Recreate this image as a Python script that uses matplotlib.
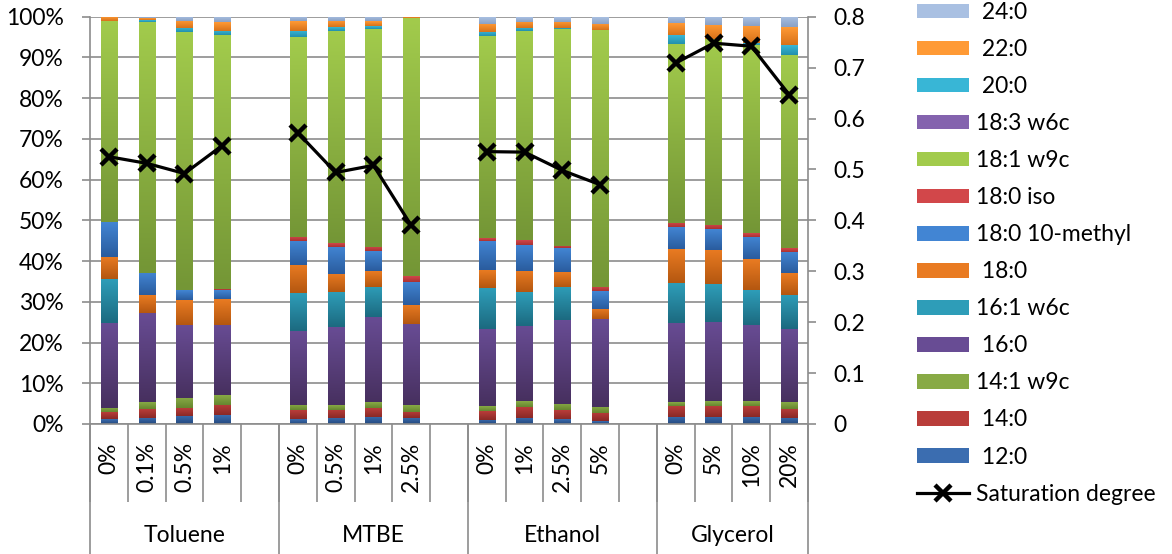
import numpy as np
import matplotlib
matplotlib.use("Agg")
import matplotlib.pyplot as plt
from matplotlib.colors import LinearSegmentedColormap
from matplotlib.patches import Patch
from matplotlib.lines import Line2D
import matplotlib.transforms as mtransforms

plt.rcParams['font.family'] = ['Lato', 'DejaVu Sans']

# categories
groups = ["Toluene", "MTBE", "Ethanol", "Glycerol"]
levels = [["0%", "0.1%", "0.5%", "1%"],
          ["0%", "0.5%", "1%", "2.5%"],
          ["0%", "1%", "2.5%", "5%"],
          ["0%", "5%", "10%", "20%"]]

# fatty acid composition (%), order: Toluene x4, MTBE x4, Ethanol x4, Glycerol x4
fa_12_0 = [1.2, 1.5, 2.0, 2.2, 1.2, 1.5, 1.8, 1.5, 1.0, 1.5, 1.2, 0.7, 1.8, 1.8, 1.8, 1.5]
fa_14_0 = [1.7, 2.2, 1.9, 2.5, 2.2, 2.0, 2.1, 1.5, 2.2, 2.7, 2.2, 2.0, 2.6, 2.6, 2.6, 2.3]
fa_14_1 = [1.0, 1.6, 2.5, 2.4, 1.3, 1.2, 1.4, 1.7, 1.1, 1.4, 1.5, 1.5, 0.9, 1.2, 1.2, 1.5]
fa_16_0 = [20.9, 21.9, 17.9, 17.2, 18.2, 19.1, 21.0, 19.8, 19.0, 18.5, 20.6, 21.5, 19.5, 19.5, 18.7, 18.0]
fa_16_1 = [10.7, 0, 0, 0, 9.2, 8.5, 7.4, 0, 10.0, 8.2, 8.2, 0, 9.8, 9.2, 8.5, 8.4]
fa_18_0 = [5.4, 4.4, 6.1, 6.3, 6.9, 4.5, 3.9, 4.7, 4.4, 5.3, 3.6, 2.5, 8.3, 8.4, 7.6, 5.3]
fa_18_0_me = [8.5, 5.6, 2.4, 2.2, 5.9, 6.7, 4.9, 5.7, 7.2, 6.3, 5.8, 4.4, 5.4, 5.1, 5.5, 5.2]
fa_18_0_iso = [0, 0, 0, 0.3, 1.1, 0.9, 1.0, 1.4, 0.7, 1.2, 0.5, 1.0, 1.0, 1.0, 0.9, 0.9]
fa_18_1 = [49.4, 61.7, 63.4, 62.3, 48.9, 52.2, 53.6, 63.4, 49.6, 51.3, 53.3, 63.2, 44.1, 45.7, 46.2, 47.6]
fa_18_3 = [0] * 16
fa_20_0 = [0, 0.4, 1.0, 1.2, 1.7, 0.8, 0.7, 0, 1.1, 0.9, 0.4, 0, 2.2, 0, 0.6, 2.4]
fa_22_0 = [1.0, 0.4, 1.8, 2.0, 2.3, 1.6, 1.2, 0.3, 2.0, 1.5, 1.5, 1.5, 2.9, 3.5, 4.2, 4.3]
fa_24_0 = [0, 0.4, 1.0, 1.4, 1.1, 1.0, 1.0, 0, 1.7, 1.2, 1.2, 1.7, 1.5, 2.0, 2.2, 2.6]

saturation = [0.525, 0.512, 0.492, 0.547, 0.572, 0.494, 0.508, 0.390,
              0.535, 0.534, 0.498, 0.470, 0.709, 0.748, 0.742, 0.647]

series = [
    (" 12:0", fa_12_0, "#3B6DB0", "#24497E"),
    (" 14:0", fa_14_0, "#B93D3A", "#8A2926"),
    ("14:1 w9c", fa_14_1, "#88AA45", "#66862F"),
    (" 16:0", fa_16_0, "#684C94", "#47305F"),
    ("16:1 w6c", fa_16_1, "#2E9DB8", "#1C6A80"),
    (" 18:0", fa_18_0, "#E97B22", "#B45710"),
    ("18:0 10-methyl", fa_18_0_me, "#4285D3", "#2A5C9E"),
    ("18:0 iso", fa_18_0_iso, "#D2474A", "#A93232"),
    ("18:1 w9c", fa_18_1, "#A2CB4C", "#749636"),
    ("18:3 w6c", fa_18_3, "#8463AE", "#5D4283"),
    (" 20:0", fa_20_0, "#38B6D6", "#2390AC"),
    (" 22:0", fa_22_0, "#FF9A35", "#D8721A"),
    (" 24:0", fa_24_0, "#A9C0E2", "#8AA1C5"),
]

FS = 16.5

# slot positions: 4 bars per group, one empty slot between groups
positions = []
for g in range(len(groups)):
    positions += [g * 5 + i for i in range(len(levels[g]))]
positions = np.array(positions, dtype=float)
n_slots = positions[-1] + 1

values = np.array([s[1] for s in series], dtype=float)
values = values / values.sum(axis=0) * 100

W, H = 1172, 554
fig = plt.figure(figsize=(W / 100, H / 100), dpi=100)
ax = fig.add_axes([90 / W, 1 - 424 / H, 718 / W, 407.3 / H])

grid_c = "#8C8C8C"
bottom = np.zeros(len(positions))
for (label, _, light, dark), vals in zip(series, values):
    bars = ax.bar(positions, vals, 0.43, bottom=bottom, color=dark, linewidth=0, zorder=2)
    cmap = LinearSegmentedColormap.from_list(label, [dark, light])
    for p in bars.patches:
        if p.get_height() <= 0:
            continue
        ax.imshow(np.linspace(0, 1, 64).reshape(-1, 1), cmap=cmap, origin="lower",
                  extent=(p.get_x(), p.get_x() + p.get_width(), p.get_y(), p.get_y() + p.get_height()),
                  aspect="auto", zorder=2.1, interpolation="bilinear")
    bottom += vals

ax.set_xlim(-0.5, n_slots - 0.5)
ax.set_ylim(0, 100)
ax.set_yticks(np.arange(0, 101, 10))
ax.set_yticklabels([f"{v}%" for v in range(0, 101, 10)])
ax.yaxis.grid(True, color=grid_c, linewidth=1.2)
ax.set_axisbelow(True)
for side in ["top", "right", "bottom"]:
    ax.spines[side].set_visible(False)
ax.spines["left"].set_color(grid_c)
ax.spines["left"].set_linewidth(1.2)
ax.tick_params(axis="y", labelsize=FS, length=6, width=1.2, color=grid_c, pad=13)

# sub-level labels
sub_labels = [lab for lv in levels for lab in lv]
ax.set_xticks(positions)
ax.set_xticklabels(sub_labels, rotation=90, fontsize=FS)
ax.tick_params(axis="x", length=0, pad=13)

trans = mtransforms.blended_transform_factory(ax.transData, ax.transAxes)
ax.axhline(0, color=grid_c, linewidth=1.2, zorder=3, clip_on=False)
bounds = np.arange(-0.5, n_slots, 1.0)
ax.vlines(bounds, -78 / 407.3, 0, transform=trans, color=grid_c, linewidth=1.2, clip_on=False)
group_bounds = [-0.5] + [g * 5 + 4.5 for g in range(len(groups) - 1)] + [n_slots - 0.5]
ax.vlines(group_bounds, -140 / 407.3, 0, transform=trans, color=grid_c, linewidth=1.2, clip_on=False)
for g, name in enumerate(groups):
    ax.text((group_bounds[g] + group_bounds[g + 1]) / 2, -112 / 407.3, name, transform=trans,
            ha="center", va="center", fontsize=FS)

# saturation degree on secondary axis
ax2 = ax.twinx()
ax2.set_ylim(0, 0.8)
ax2.set_yticks(np.arange(0, 0.81, 0.1))
ax2.set_yticklabels(["0"] + [f"{v:.1f}" for v in np.arange(0.1, 0.81, 0.1)])
for side in ["top", "left", "bottom"]:
    ax2.spines[side].set_visible(False)
ax2.spines["right"].set_color(grid_c)
ax2.spines["right"].set_linewidth(1.2)
ax2.tick_params(axis="y", labelsize=FS, length=6, width=1.2, color=grid_c, pad=12)
sat = np.array(saturation)
for g in range(len(groups)):
    idx = slice(g * 4, g * 4 + 4)
    ax2.plot(positions[idx], sat[idx], color="black", linewidth=2.3, marker="x",
             markersize=11, markeredgewidth=3.2, zorder=5)

# legend
handles = [Patch(facecolor=s[2], edgecolor="none") for s in series][::-1]
labels = [s[0] for s in series][::-1]
handles.append(Line2D([], [], color="black", linewidth=2.3, marker="x", markersize=11, markeredgewidth=3.2))
labels.append("Saturation degree")
fig.legend(handles, labels, loc="upper left", bbox_to_anchor=(917 / W, 1 - 2 / H),
           frameon=False, fontsize=FS, handlelength=2.27, handleheight=0.61,
           handletextpad=0.3, labelspacing=0.7, borderpad=0, borderaxespad=0)

fig.savefig("out.png", dpi=100)
